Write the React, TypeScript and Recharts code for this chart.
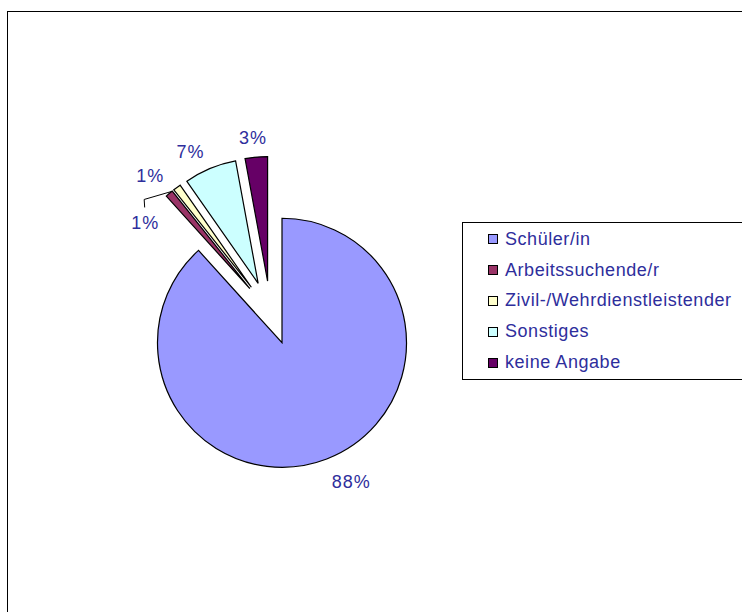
import React from "react";
import { PieChart, Pie, Cell, Legend } from "recharts";

// ── Data ──────────────────────────────────────────────────────────────────────

const categories = [
  "Schüler/in",
  "Arbeitssuchende/r",
  "Zivil-/Wehrdienstleistender",
  "Sonstiges",
  "keine Angabe",
];
const shares = [88.3, 1.0, 1.0, 6.8, 2.9];

// ── Styles ────────────────────────────────────────────────────────────────────

const SLICE_COLORS = ["#9999FF", "#993366", "#FFFFCC", "#CCFFFF", "#660066"];
const TEXT_COLOR = "#2e2e9c";
const FONT = "'Liberation Sans', Arial, sans-serif";

const CX = 270.5;
const CY = 312.9;
const RADIUS = 124.5;
const EXPLODE = 32;

// label distance from the exploded centre and angle nudge (deg), per slice
const LABEL_PLACEMENT = [
  { r: 155.6, dA: 5.2, leader: false },
  { r: 150.4, dA: 1.4, leader: false },
  { r: 124.3, dA: 22.4, leader: true },
  { r: 148.3, dA: 4.7, leader: false },
  { r: 143.5, dA: 0.8, leader: false },
];

const RAD = Math.PI / 180;
const total = shares.reduce((a, b) => a + b, 0);
const data = categories.map((name, i) => ({ name, value: shares[i] }));

// mid angle of each slice in Recharts degrees (90 = 12 o'clock, clockwise)
const midAngles = shares.map((v, i) => {
  const before = shares.slice(0, i).reduce((a, b) => a + b, 0);
  return 90 - (360 * (before + v / 2)) / total;
});

const polar = (cx: number, cy: number, r: number, a: number) => ({
  x: cx + r * Math.cos(-a * RAD),
  y: cy + r * Math.sin(-a * RAD),
});

// ── Labels ────────────────────────────────────────────────────────────────────

function makeLabel(target: number) {
  return (props: any) => {
    const { cx, cy, midAngle, outerRadius, index, percent } = props;
    if (index !== target) return null;
    const place = LABEL_PLACEMENT[index];
    const p = polar(cx, cy, place.r, midAngle + place.dA);
    const text = `${Math.round(percent * 100)}%`;
    let leader = null;
    if (place.leader) {
      const tip = polar(cx, cy, outerRadius, midAngle + 2.9);
      leader = (
        <polyline
          points={`${p.x},${p.y - 16} ${p.x - 0.5},${p.y - 24} ${tip.x},${tip.y}`}
          fill="none"
          stroke="#000"
          strokeWidth={1}
        />
      );
    }
    return (
      <g>
        {leader}
        <text
          x={p.x + 0.5}
          y={p.y}
          textAnchor="middle"
          dominantBaseline="central"
          fill={TEXT_COLOR}
          fontSize={18}
          fontFamily={FONT}
          letterSpacing={1}
        >
          {text}
        </text>
      </g>
    );
  };
}

// ── Legend ────────────────────────────────────────────────────────────────────

function LegendBox() {
  return (
    <div
      style={{
        border: "1px solid #000",
        width: 300,
        height: 158,
        boxSizing: "border-box",
        background: "#fff",
        paddingTop: 1,
        fontFamily: FONT,
      }}
    >
      {categories.map((name, i) => (
        <div
          key={name}
          style={{ height: 30.8, display: "flex", alignItems: "center", paddingLeft: 25 }}
        >
          <span
            style={{
              width: 8,
              height: 8,
              border: "1px solid #000",
              background: SLICE_COLORS[i],
              marginRight: 7,
              flexShrink: 0,
            }}
          />
          <span style={{ fontSize: 18, color: TEXT_COLOR, letterSpacing: 0.55, whiteSpace: "nowrap" }}>
            {name}
          </span>
        </div>
      ))}
    </div>
  );
}

// ── Main ──────────────────────────────────────────────────────────────────────

export default function App() {
  return (
    <div
      style={{
        position: "absolute",
        left: 0,
        top: 0,
        width: 742,
        height: 612,
        overflow: "hidden",
        background: "#fff",
      }}
    >
      <div
        style={{
          position: "absolute",
          left: 7,
          top: 11,
          width: 800,
          height: 700,
          borderLeft: "1px solid #000",
          borderTop: "1px solid #000",
        }}
      />
      <div style={{ position: "absolute", left: 0, top: 0 }}>
        <PieChart width={742} height={612} margin={{ top: 0, right: 0, bottom: 0, left: 0 }}>
          {data.map((d, i) => (
            <Pie
              key={d.name}
              data={data}
              dataKey="value"
              nameKey="name"
              cx={CX + EXPLODE * Math.cos(midAngles[i] * RAD)}
              cy={CY - EXPLODE * Math.sin(midAngles[i] * RAD)}
              outerRadius={RADIUS}
              startAngle={90}
              endAngle={-270}
              isAnimationActive={false}
              label={makeLabel(i)}
              labelLine={false}
              legendType="none"
            >
              {data.map((c, j) => (
                <Cell
                  key={c.name}
                  fill={j === i ? SLICE_COLORS[j] : "none"}
                  stroke={j === i ? "#000" : "none"}
                  strokeWidth={1.2}
                />
              ))}
            </Pie>
          ))}
          <Legend
            content={() => <LegendBox />}
            wrapperStyle={{ left: 462, top: 222, width: 300 }}
          />
        </PieChart>
      </div>
    </div>
  );
}
